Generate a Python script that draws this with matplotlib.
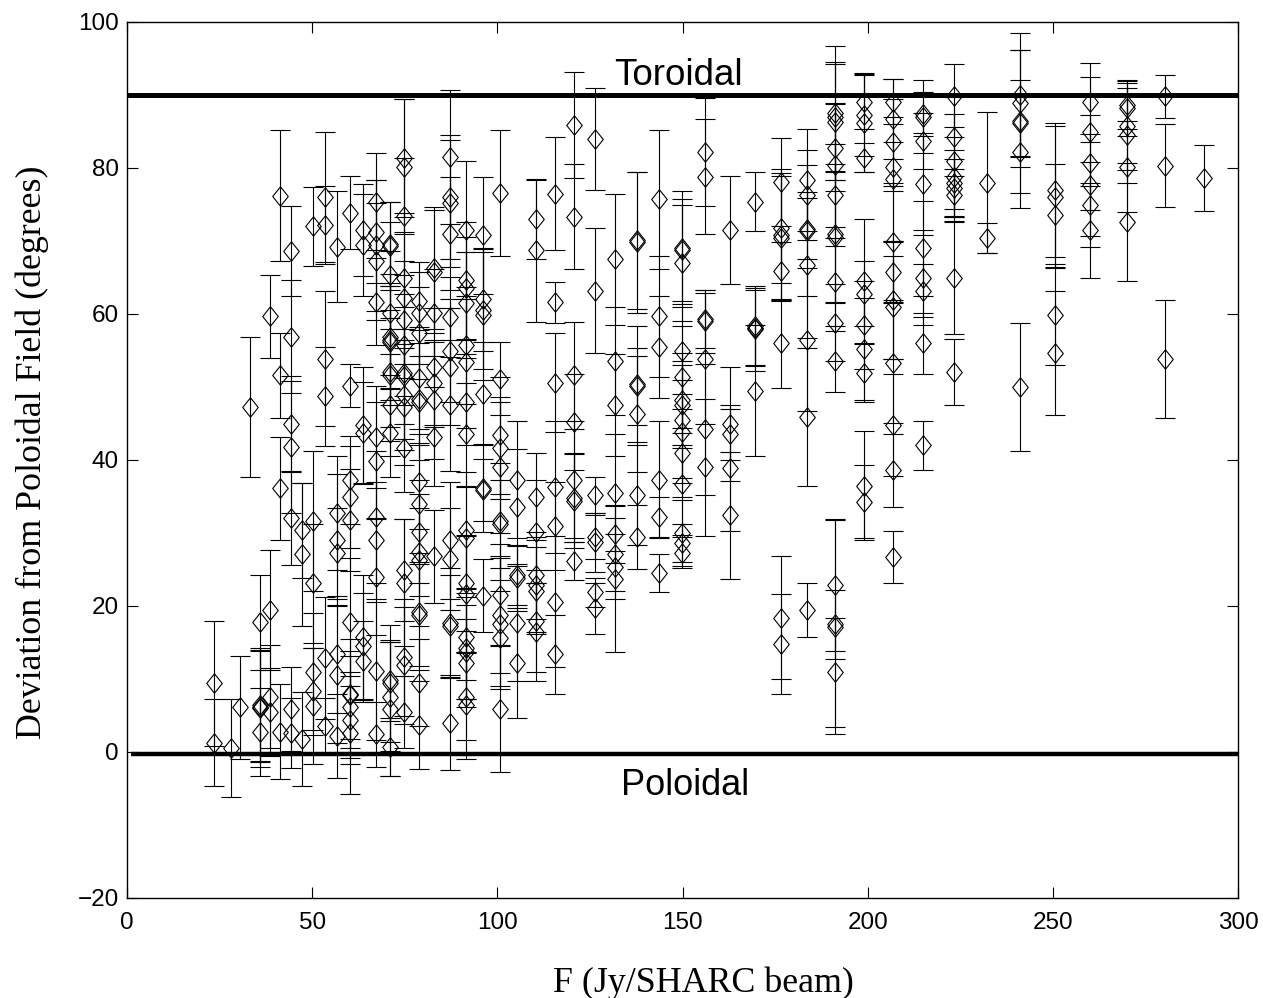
import matplotlib
matplotlib.use("Agg")
import matplotlib.pyplot as plt
import numpy as np
from matplotlib.path import Path

# flux columns (Jy/SHARC beam)
flux = [23.5, 28.1, 30.5, 33.2, 35.9, 38.6, 41.3, 44.3, 47.3, 50.2,
        53.5, 56.7, 60.2, 63.7, 67.2, 71.0, 74.8, 78.8, 82.9, 87.2,
        91.5, 96.1, 100.7, 105.3, 110.4, 115.5, 120.7, 126.4, 131.8, 137.7,
        143.7, 149.9, 156.1, 162.8, 169.6, 176.6, 183.6, 191.2, 199.0, 206.9,
        215.0, 223.3, 232.2, 241.2, 250.6, 260.0, 270.0, 280.3, 290.8]

# deviation angle per column
deviation = [
    [9.4, 1.3], [0.5], [6.1], [47.3],
    [17.8, 6.5, 6.2, 6.0, 2.7],
    [59.7, 19.5, 7.6, 5.5],
    [76.2, 51.6, 36.1, 2.8],
    [68.6, 56.9, 45.0, 41.8, 32.0, 5.9, 2.6],
    [30.4, 27.1, 1.8],
    [72.0, 31.6, 23.1, 11.0, 8.3, 6.3],
    [76.0, 72.2, 53.9, 48.7, 12.9, 3.6],
    [69.2, 32.7, 29.1, 27.2, 13.4, 10.6, 2.2],
    [73.9, 50.2, 37.3, 34.9, 31.8, 17.8, 7.8, 8.0, 6.2, 4.4, 2.6],
    [71.5, 69.4, 44.8, 43.7, 15.7, 14.5, 12.4],
    [75.4, 71.3, 69.4, 67.2, 61.7, 43.2, 39.9, 32.2, 29.0, 24.0, 11.1, 2.4],
    [69.6, 69.3, 65.3, 60.1, 56.8, 56.5, 56.2, 52.0, 51.6, 47.5, 43.7, 9.8, 9.4, 7.6, 5.9, 0.7],
    [81.4, 80.2, 73.4, 64.9, 62.2, 59.2, 55.7, 51.9, 51.5, 48.9, 47.3, 41.6, 24.9, 23.2, 13.0, 11.9, 5.5],
    [61.8, 60.1, 57.4, 51.2, 48.3, 48.0, 37.0, 34.0, 30.2, 27.4, 26.3, 19.2, 18.8, 9.5, 3.7],
    [66.3, 65.8, 60.2, 52.8, 50.5, 48.2, 43.2, 26.8],
    [81.5, 76.0, 75.2, 71.0, 59.6, 55.0, 52.8, 47.5, 29.0, 26.4, 17.7, 17.3, 4.0],
    [71.5, 64.6, 63.5, 61.5, 55.7, 53.4, 48.0, 43.5, 30.4, 29.3, 23.1, 21.7, 15.8, 14.2, 13.7, 12.2, 7.6, 6.4],
    [70.8, 62.0, 60.5, 59.9, 49.1, 36.2, 35.9, 21.4],
    [76.6, 51.1, 43.4, 41.6, 39.0, 31.6, 31.2, 21.5, 18.8, 17.6, 15.6, 5.9],
    [37.3, 33.5, 24.2, 23.8, 17.7, 12.2],
    [73.0, 68.7, 35.0, 30.2, 24.2, 22.9, 22.1, 18.0, 16.4],
    [76.5, 61.6, 50.6, 36.3, 31.0, 20.6, 13.4],
    [85.9, 73.3, 51.6, 45.2, 37.3, 34.8, 34.4, 26.1],
    [84.0, 63.2, 35.2, 29.5, 28.7, 21.9, 19.7],
    [67.5, 53.6, 47.5, 35.5, 29.9, 27.1, 25.4, 23.7],
    [70.1, 69.8, 50.4, 50.1, 46.3, 35.2, 29.5],
    [75.7, 59.7, 55.5, 37.3, 32.2, 24.5],
    [69.1, 68.8, 67.0, 55.0, 51.4, 48.2, 47.5, 45.5, 43.9, 41.0, 36.7, 30.0, 28.6, 27.3],
    [82.2, 78.8, 59.3, 59.0, 53.9, 44.2, 39.0],
    [71.5, 44.9, 43.5, 38.9, 32.4],
    [75.4, 58.4, 58.1, 57.9, 49.5],
    [78.1, 71.8, 70.8, 70.4, 65.9, 56.0, 18.4, 14.8],
    [78.4, 76.3, 71.7, 71.4, 66.7, 56.5, 45.9, 19.5],
    [87.5, 87.0, 86.3, 82.8, 80.4, 76.3, 71.0, 70.6, 64.4, 58.8, 53.5, 22.9, 17.5, 17.1, 10.9],
    [89.1, 87.3, 86.2, 81.4, 64.5, 62.8, 58.5, 55.2, 51.9, 36.5, 34.3],
    [89.1, 86.7, 83.5, 80.2, 78.5, 69.9, 65.8, 61.9, 60.9, 53.3, 44.8, 38.6, 26.7],
    [87.4, 87.0, 83.7, 77.8, 69.0, 65.0, 63.2, 56.0, 42.0],
    [89.9, 84.3, 80.9, 78.8, 77.9, 77.3, 76.3, 64.9, 52.1],
    [78.0, 70.4],
    [90.0, 88.9, 86.4, 86.1, 82.2, 50.0],
    [77.0, 76.0, 73.5, 59.9, 54.6],
    [89.0, 85.0, 80.7, 77.7, 75.0, 71.5],
    [88.6, 88.2, 85.7, 84.5, 80.2, 72.6],
    [89.8, 80.3, 53.8],
    [78.6],
]

# symmetric error per point
dev_err = [
    [8.6, 6.0], [6.7], [7.0], [9.6],
    [6.5, 7.8, 7.6, 8.0, 6.0],
    [5.7, 8.2, 7.0, 6.0],
    [9.0, 5.8, 7.0, 6.5],
    [6.2, 7.7, 6.5, 9.0, 6.4, 5.8, 4.8],
    [6.5, 9.8, 6.4],
    [5.4, 9.6, 8.2, 8.0, 6.0, 8.0],
    [8.9, 5.4, 9.3, 6.8, 8.4, 3.8],
    [7.6, 7.8, 9.0, 6.2, 8.0, 9.4, 5.8],
    [5.0, 3.0, 6.0, 7.0, 7.0, 8.8, 6.0, 7.5, 7.0, 6.0, 8.3],
    [6.3, 7.0, 8.0, 7.0, 8.6, 7.3, 5.6],
    [6.7, 7.0, 9.0, 8.0, 6.0, 7.0, 8.0, 9.0, 8.0, 8.0, 9.5, 4.5],
    [5.8, 6.0, 7.3, 8.5, 7.0, 9.0, 8.0, 7.5, 9.0, 7.0, 6.0, 5.5, 8.0, 7.5, 9.2, 4.0],
    [8.1, 9.3, 8.0, 9.0, 9.0, 8.0, 7.0, 9.0, 6.5, 7.5, 8.0, 6.0, 7.0, 8.7, 8.0, 8.0, 4.9],
    [4.0, 7.0, 6.3, 7.0, 6.0, 8.0, 6.5, 8.0, 7.0, 6.0, 9.0, 8.0, 7.0, 6.0, 6.0],
    [8.4, 8.4, 6.0, 8.0, 6.0, 8.0, 6.8, 6.4],
    [9.2, 8.5, 8.7, 7.7, 5.5, 7.0, 8.0, 9.0, 8.0, 7.0, 7.5, 7.0, 6.5],
    [9.4, 8.0, 7.0, 7.0, 8.0, 9.0, 6.0, 7.0, 8.0, 7.0, 6.5, 8.0, 6.0, 7.0, 6.5, 6.0, 6.0, 7.3],
    [8.0, 7.0, 8.0, 9.0, 7.0, 6.0, 4.3, 5.0],
    [8.6, 5.0, 8.0, 7.0, 9.0, 8.0, 6.0, 7.0, 8.0, 9.0, 6.5, 8.7],
    [8.0, 8.0, 4.0, 4.5, 8.0, 7.5],
    [5.4, 9.8, 6.0, 7.0, 6.0, 6.5, 6.0, 7.0, 6.7],
    [7.7, 2.8, 6.8, 9.0, 6.0, 9.0, 5.4],
    [7.3, 7.2, 7.3, 6.6, 8.0, 6.0, 6.5, 2.6],
    [7.0, 8.6, 2.5, 3.0, 4.0, 2.0, 3.5],
    [9.0, 7.4, 7.0, 8.0, 4.0, 5.0, 4.5, 10.0],
    [9.4, 9.6, 8.0, 5.3, 8.0, 6.8, 4.4],
    [9.5, 8.3, 7.0, 8.0, 2.7, 2.6],
    [7.7, 7.0, 8.0, 6.0, 7.0, 6.5, 5.5, 8.0, 7.0, 6.0, 7.0, 4.5, 2.6, 2.1],
    [7.4, 7.9, 4.0, 4.3, 9.0, 9.0, 9.4],
    [7.4, 7.8, 3.5, 8.6, 8.7],
    [4.0, 5.4, 5.2, 5.7, 9.0],
    [6.0, 7.5, 9.0, 8.5, 4.0, 6.1, 8.4, 6.8],
    [7.0, 6.2, 4.2, 9.0, 10.0, 9.8, 9.4, 3.7],
    [9.2, 7.5, 8.0, 6.0, 8.5, 7.0, 9.5, 9.0, 6.0, 5.3, 4.2, 9.0, 4.7, 14.7, 7.5],
    [3.7, 5.7, 6.7, 2.0, 8.5, 4.5, 6.0, 7.0, 4.0, 7.5, 5.0],
    [3.1, 5.5, 6.0, 3.3, 8.5, 8.0, 4.2, 8.0, 7.0, 8.2, 7.0, 5.0, 3.6],
    [3.0, 5.0, 3.9, 7.0, 6.5, 6.5, 3.6, 4.2, 3.4],
    [4.3, 5.4, 6.5, 5.5, 4.5, 4.0, 3.5, 7.7, 4.5],
    [9.7, 2.05],
    [8.5, 7.3, 9.8, 6.0, 7.7, 8.7],
    [9.2, 9.7, 7.0, 6.9, 8.5],
    [5.4, 7.5, 6.5, 7.0, 5.8, 6.5],
    [3.3, 3.8, 6.0, 6.5, 6.2, 8.1],
    [3.0, 5.7, 8.1],
    [4.5],
]

x_ticks = [0, 50, 100, 150, 200, 250, 300]
y_ticks = [-20, 0, 20, 40, 60, 80, 100]

diamond = Path([(0, -1), (0.8, 0), (0, 1), (-0.8, 0), (0, -1)], closed=True)

plt.rcParams["font.family"] = ["Liberation Sans", "DejaVu Sans"]

fig = plt.figure(figsize=(12.63, 9.98), dpi=100)
ax = fig.add_axes([127 / 1263, 1 - 898 / 998, 1111 / 1263, 876 / 998])

for f, devs, errs in zip(flux, deviation, dev_err):
    ax.errorbar(
        [f] * len(devs),
        devs,
        yerr=errs,
        fmt="none",
        ecolor="black",
        elinewidth=0.8,
        capsize=7.2,
        capthick=0.8,
    )
    ax.plot(
        [f] * len(devs),
        devs,
        linestyle="none",
        marker=diamond,
        markersize=14,
        markerfacecolor="none",
        markeredgecolor="black",
        markeredgewidth=0.8,
    )

ax.plot([0, 300], [90, 90], color="black", linewidth=3.6, solid_capstyle="butt")
ax.plot([1, 300], [-0.3, -0.3], color="black", linewidth=3.2, solid_capstyle="butt")

ax.text(149, 92.7, "Toroidal", fontsize=26.5, ha="center", va="center")
ax.text(150.7, -4.6, "Poloidal", fontsize=26, ha="center", va="center")

ax.set_xlim(0, 300)
ax.set_ylim(-20, 100)
ax.set_xticks(x_ticks)
ax.set_yticks(y_ticks)
ax.tick_params(
    direction="in", length=8, width=0.8, top=True, right=True, labelsize=17.5, pad=6
)
ax.tick_params(axis="x", pad=10)
ax.set_yticklabels(["\u221220", "0", "20", "40", "60", "80", "100"])
for spine in ax.spines.values():
    spine.set_linewidth(1.0)

ax.set_xlabel("F (Jy/SHARC beam)", family="Liberation Serif", fontsize=25.8)
ax.xaxis.set_label_coords(0.519, -0.078)
ax.set_ylabel(
    "Deviation from Poloidal Field (degrees)",
    family="Liberation Serif",
    fontsize=25.8,
)
ax.yaxis.set_label_coords(-0.070, 0.509)

fig.savefig("out.png", dpi=100)
